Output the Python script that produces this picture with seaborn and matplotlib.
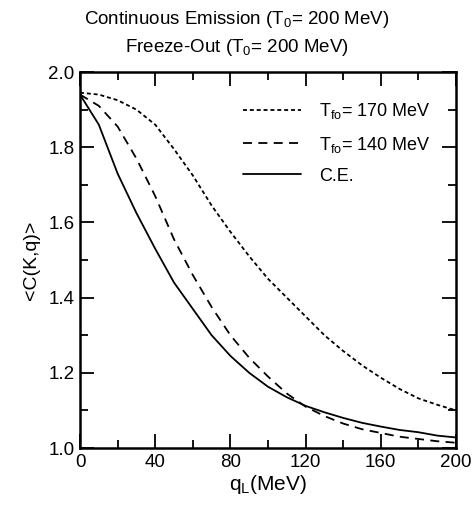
import numpy as np
import pandas as pd
import matplotlib
matplotlib.use('Agg')
import matplotlib.pyplot as plt
import seaborn as sns
from matplotlib.ticker import MultipleLocator

q = [0, 10, 20, 30, 40, 50, 60, 70, 80, 90, 100, 110, 120, 130, 140, 150, 160, 170, 180, 190, 200]
c_170 = [1.945, 1.94, 1.925, 1.90, 1.86, 1.795, 1.725, 1.645, 1.575, 1.51, 1.45, 1.40, 1.35, 1.30, 1.258, 1.22, 1.187, 1.157, 1.132, 1.115, 1.10]
c_140 = [1.94, 1.91, 1.855, 1.77, 1.67, 1.555, 1.46, 1.375, 1.30, 1.24, 1.19, 1.145, 1.11, 1.085, 1.065, 1.05, 1.04, 1.03, 1.024, 1.018, 1.014]
c_ce = [1.94, 1.86, 1.73, 1.625, 1.53, 1.44, 1.37, 1.30, 1.245, 1.20, 1.163, 1.135, 1.112, 1.095, 1.08, 1.067, 1.057, 1.048, 1.042, 1.033, 1.028]
labels = ['T$_{\\rm fo}$= 170 MeV', 'T$_{\\rm fo}$= 140 MeV', 'C.E.']

sns.set_style('ticks')
plt.rcParams['font.family'] = ['Liberation Sans', 'DejaVu Sans']
plt.rcParams['mathtext.fontset'] = 'custom'
plt.rcParams['mathtext.rm'] = 'Liberation Sans'
plt.rcParams['mathtext.it'] = 'Liberation Sans'
plt.rcParams['text.color'] = 'black'
plt.rcParams['axes.labelcolor'] = 'black'
plt.rcParams['xtick.color'] = 'black'
plt.rcParams['ytick.color'] = 'black'
plt.rcParams['axes.edgecolor'] = 'black'

fig = plt.figure(figsize=(4.74, 5.14), dpi=100)
ax = fig.add_axes([0.1688, 0.1284, 0.7932, 0.7315])

df = pd.DataFrame({'q': q * 3,
                   'C': c_170 + c_140 + c_ce,
                   'series': [labels[0]] * len(q) + [labels[1]] * len(q) + [labels[2]] * len(q)})
styles = [(0, (2.2, 1.6)), (0, (5, 3.5)), '-']
for lab, ls in zip(labels, styles):
    sub = df[df['series'] == lab]
    sns.lineplot(data=sub, x='q', y='C', ax=ax, color='black', lw=1.3, linestyle=ls, label=lab)

ax.set_xlim(0, 200)
ax.set_ylim(1.0, 2.0)
ax.xaxis.set_major_locator(MultipleLocator(40))
ax.xaxis.set_minor_locator(MultipleLocator(20))
ax.yaxis.set_major_locator(MultipleLocator(0.2))
ax.yaxis.set_minor_locator(MultipleLocator(0.1))
ax.yaxis.set_major_formatter(matplotlib.ticker.FormatStrFormatter('%.1f'))
ax.tick_params(which='both', direction='in', top=True, right=True, width=1.3, labelsize=13.5, pad=4)
ax.tick_params(which='major', length=10)
ax.tick_params(which='minor', length=6)
for s in ax.spines.values():
    s.set_linewidth(1.8)

ax.set_xlabel('q$_{\\rm L}$(MeV)', fontsize=15, labelpad=2)
ax.set_ylabel('<C(K,q)>', fontsize=14, labelpad=6)
fig.text(0.5, 0.962, 'Continuous Emission (T$_{\\rm 0}$= 200 MeV)', ha='center', va='center', fontsize=13.5)
fig.text(0.5, 0.907, 'Freeze-Out (T$_{\\rm 0}$= 200 MeV)', ha='center', va='center', fontsize=13.5)

leg = ax.legend(loc='upper right', frameon=False, fontsize=13, handlelength=3.2,
                handletextpad=1.0, labelspacing=0.73, bbox_to_anchor=(0.975, 0.965))

fig.savefig('out.png', dpi=100)
